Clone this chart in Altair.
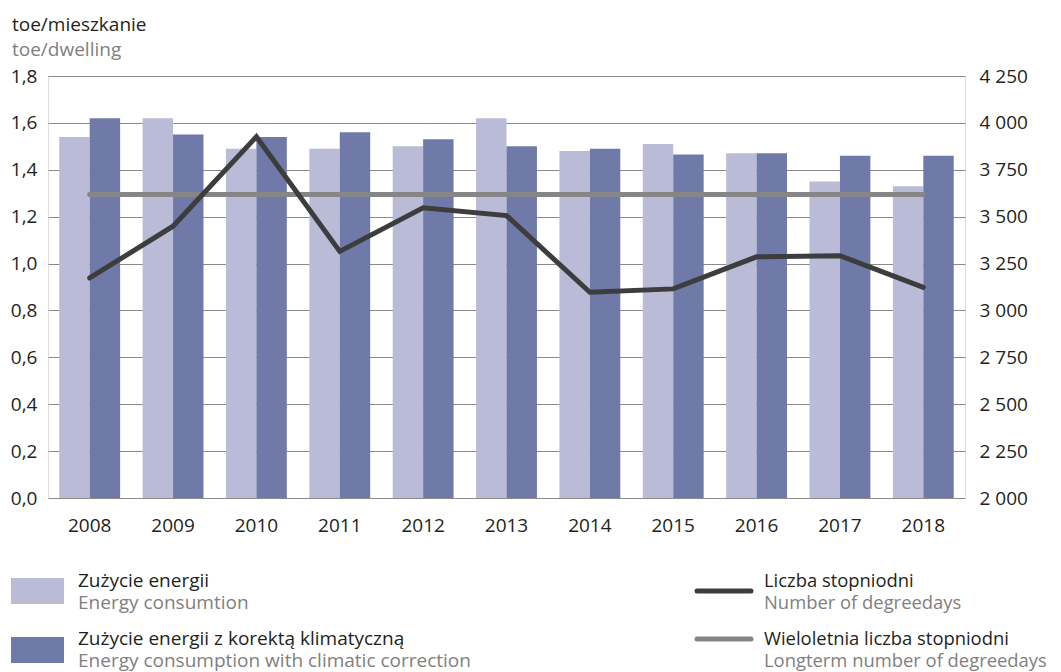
import altair as alt
import pandas as pd

years = ["2008", "2009", "2010", "2011", "2012", "2013", "2014", "2015", "2016", "2017", "2018"]
energy = [1.54, 1.62, 1.49, 1.49, 1.50, 1.62, 1.48, 1.51, 1.47, 1.35, 1.33]
energy_corr = [1.62, 1.55, 1.54, 1.56, 1.53, 1.50, 1.49, 1.465, 1.47, 1.46, 1.46]
degreedays = [3173, 3449, 3926, 3315, 3547, 3506, 3097, 3115, 3286, 3292, 3123]
longterm = 3618
left_ticks = [0.0, 0.2, 0.4, 0.6, 0.8, 1.0, 1.2, 1.4, 1.6, 1.8]
right_ticks = [2000, 2250, 2500, 2750, 3000, 3250, 3500, 3750, 4000, 4250]

FONT = "Open Sans"
FS = 19
LIGHT = "#b9bbd7"
DARK = "#6f7aa9"
LINE_DARK = "#3d3d3d"
LINE_GREY = "#868686"
TXT = "#231f20"
TXT_GREY = "#808080"

bars_df = pd.DataFrame({
    "year": years * 2,
    "series": ["a"] * len(years) + ["b"] * len(years),
    "value": energy + energy_corr,
})
deg_df = pd.DataFrame({"year": years, "dd": degreedays})
long_df = pd.DataFrame({"year": [years[0], years[-1]], "dd": [longterm, longterm]})

xscale = alt.Scale(paddingInner=0.27, paddingOuter=0.135)
xaxis = alt.Axis(title=None, ticks=False, domain=False, labelPadding=18, labelAngle=0,
                 labelFont=FONT, labelFontSize=FS, labelColor=TXT, grid=False)

bars = alt.Chart(bars_df).mark_bar().encode(
    x=alt.X("year:N", scale=xscale, axis=xaxis, sort=years),
    xOffset=alt.XOffset("series:N", scale=alt.Scale(paddingInner=0, paddingOuter=0)),
    y=alt.Y("value:Q", scale=alt.Scale(domain=[0, 1.8], nice=False),
            axis=alt.Axis(title=None, values=left_ticks, ticks=False, domain=False,
                          labelPadding=11, labelFont=FONT, labelFontSize=FS, labelColor=TXT,
                          gridColor="#8a8a8a", gridWidth=1, grid=True,
                          labelExpr="replace(format(datum.value, '.1f'), '.', ',')")),
    color=alt.Color("series:N", scale=alt.Scale(domain=["a", "b"], range=[LIGHT, DARK]), legend=None),
)

raxis = alt.Axis(title=None, values=right_ticks, ticks=False, domain=False, grid=False,
                 orient="right", labelPadding=14, labelFont=FONT, labelFontSize=FS, labelColor=TXT,
                 labelExpr="replace(format(datum.value, ','), ',', ' ')")
rscale = alt.Scale(domain=[2000, 4250], nice=False)

long_line = alt.Chart(long_df).mark_line(color=LINE_GREY, strokeWidth=5, strokeCap="round").encode(
    x=alt.X("year:N", sort=years),
    y=alt.Y("dd:Q", scale=rscale, axis=raxis),
)
deg_line = alt.Chart(deg_df).mark_line(color=LINE_DARK, strokeWidth=5, strokeCap="round", strokeJoin="miter").encode(
    x=alt.X("year:N", sort=years),
    y=alt.Y("dd:Q", scale=rscale, axis=raxis),
)
lines = alt.layer(long_line, deg_line)

one = pd.DataFrame({"a": [0]})

def txt(s, x, y, color, fs=FS):
    return alt.Chart(one).mark_text(text=s, align="left", baseline="alphabetic", font=FONT,
                                    fontSize=fs, color=color).encode(x=alt.value(x), y=alt.value(y))

def swatch(x, x2, y, y2, color):
    return alt.Chart(one).mark_rect(color=color).encode(
        x=alt.value(x), x2=alt.value(x2), y=alt.value(y), y2=alt.value(y2))

def lswatch(x, x2, y, color):
    return alt.Chart(one).mark_rule(color=color, strokeWidth=5, strokeCap="round").encode(
        x=alt.value(x), x2=alt.value(x2), y=alt.value(y))

RFS = 18.4
extras = [
    txt("toe/mieszkanie", -36, -45, TXT),
    txt("toe/dwelling", -36, -20, TXT_GREY),
    swatch(-37, 16, 502, 528, LIGHT),
    swatch(-37, 16, 561, 587, DARK),
    txt("Zużycie energii", 30, 511, TXT),
    txt("Energy consumtion", 30, 533, TXT_GREY),
    txt("Zużycie energii z korektą klimatyczną", 30, 569, TXT),
    txt("Energy consumption with climatic correction", 30, 591, TXT_GREY),
    lswatch(649, 703, 515, LINE_DARK),
    lswatch(649, 703, 563, LINE_GREY),
    txt("Liczba stopniodni", 716, 511, TXT, RFS),
    txt("Number of degreedays", 716, 533, TXT_GREY, RFS),
    txt("Wieloletnia liczba stopniodni", 716, 569, TXT, RFS),
    txt("Longterm number of degreedays", 716, 591, TXT_GREY, RFS),
]

chart = alt.layer(bars, lines, *extras).resolve_scale(y="independent").properties(
    width=917, height=422,
    autosize=alt.AutoSizeParams(type="none"),
    padding={"left": 40, "top": 68, "right": 88, "bottom": 174},
).configure_view(stroke=None).configure(background="white")

chart.save("out.html", embed_options={"renderer": "svg", "actions": False})
